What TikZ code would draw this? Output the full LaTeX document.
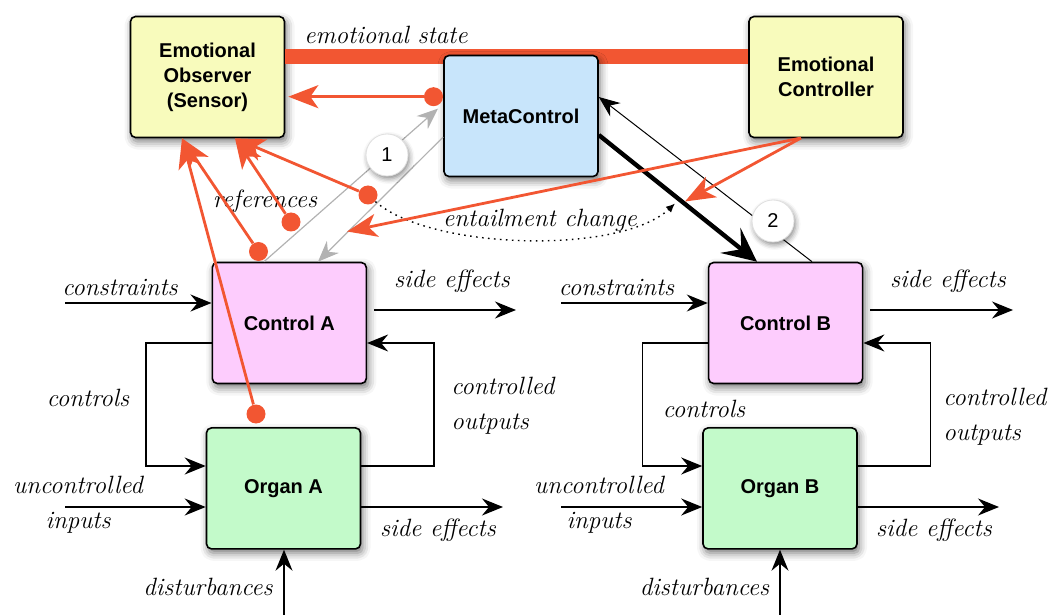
\documentclass[tikz,border=0pt]{standalone}
\usepackage{fontspec}
\setsansfont{Liberation Sans}
\usetikzlibrary{arrows.meta,positioning,calc,shadows.blur}

\definecolor{emoorange}{RGB}{242,86,50}
\definecolor{emoyellow}{RGB}{248,251,188}
\definecolor{metablue}{RGB}{200,229,251}
\definecolor{ctrlpink}{RGB}{253,204,253}
\definecolor{organgreen}{RGB}{195,250,202}

\newcommand{\lblfont}{\fontsize{12.5}{17.5}\selectfont\itshape}

\begin{document}
\begin{tikzpicture}[
    x=0.5pt, y=-0.5pt,
    box/.style={rectangle, draw, rounded corners=2.5pt, line width=0.8pt, minimum width=77pt, minimum height=60.5pt, align=center, font=\fontsize{10}{12.5}\selectfont\sffamily\bfseries, blur shadow={shadow xshift=1pt, shadow yshift=-2pt, shadow blur radius=4pt, shadow opacity=55}},
    arrow/.style={-{Stealth[length=10.5pt, width=8.5pt, inset=3.5pt]}, line width=0.75pt},
    ghost/.style={arrow, draw=black!30, line width=0.6pt},
    emo/.style={draw=emoorange, line width=1.4pt, -{Stealth[length=15pt, width=11.5pt, inset=4pt]}},
    dot/.style={circle, fill=emoorange, inner sep=0pt, minimum size=9.5pt},
    numcirc/.style={circle, fill=white, draw=black!12, minimum size=21pt, inner sep=0pt, font=\fontsize{10}{12}\selectfont\sffamily, blur shadow={shadow xshift=0.8pt, shadow yshift=-1.5pt, shadow blur radius=2.5pt, shadow opacity=45}},
    lbl/.style={font=\lblfont, inner sep=0pt}
]
    \useasboundingbox (0,0) rectangle (1051,615);

    % top row
    \node[box, fill=emoyellow] (observer) at (207.5,77) {Emotional\\Observer\\(Sensor)};
    \node[box, fill=emoyellow] (emoctrl) at (826,77) {Emotional\\Controller};
    \draw[emoorange, line width=7.5pt] (observer.east |- 0,57) -- (emoctrl.west |- 0,57);
    \node[lbl] (state) at (386,35) {emotional state};
    \node[box, fill=metablue] (meta) at (521,116) {MetaControl};

    % control loops
    \node[box, fill=ctrlpink] (ctrlA) at (289.3,323) {Control A};
    \node[box, fill=organgreen, below=21.4pt of ctrlA, xshift=-2.9pt] (organA) {Organ A};
    \node[box, fill=ctrlpink] (ctrlB) at (785.6,323) {Control B};
    \node[box, fill=organgreen, below=21.4pt of ctrlB, xshift=-2.8pt] (organB) {Organ B};

    \coordinate (consA) at (65,303);
    \coordinate (consB) at (561,303);
    \coordinate (sideA) at (516,310);
    \coordinate (sideB) at (1013,310);
    \coordinate (uncA) at (65,507);
    \coordinate (uncB) at (561,507);
    \coordinate (sideOA) at (503,507);
    \coordinate (sideOB) at (999,507);
    \coordinate (distA) at (284,615);
    \coordinate (distB) at (780,615);

    \draw[arrow] (consA) -- (ctrlA.west |- consA);
    \draw[arrow, shorten <=3.5pt] (ctrlA.east |- sideA) -- (sideA);
    \draw[arrow] (ctrlA.west |- 0,343) -| (146,466) -- (organA.west |- 0,466);
    \draw[arrow] (organA.east |- 0,466) -| (434,343) -- (ctrlA.east |- 0,343);
    \draw[arrow] (uncA) -- (organA.west |- uncA);
    \draw[arrow] (organA.east |- sideOA) -- (sideOA);
    \draw[arrow] (distA) -- (distA |- organA.south);

    \draw[arrow] (consB) -- (ctrlB.west |- consB);
    \draw[arrow, shorten <=3.5pt] (ctrlB.east |- sideB) -- (sideB);
    \draw[arrow] (ctrlB.west |- 0,343) -| (642.6,466) -- (organB.west |- 0,466);
    \draw[arrow] (organB.east |- 0,466) -| (930.4,343) -- (ctrlB.east |- 0,343);
    \draw[arrow] (uncB) -- (organB.west |- uncB);
    \draw[arrow] (organB.east |- sideOB) -- (sideOB);
    \draw[arrow] (distB) -- (distB |- organB.south);

    \node[lbl] (consAlbl) at (120,287) {constraints};
    \node[lbl] (sideAlbl) at (452,281) {side effects};
    \node[lbl] (ctlsAlbl) at (88,398) {controls};
    \node[lbl, align=left, anchor=west] (coutAlbl) at (451,405.5) {controlled\\outputs};
    \node[lbl, align=center] (uncAlbl) at (78,505) {uncontrolled\\inputs};
    \node[lbl] (sideOAlbl) at (438,530) {side effects};
    \node[lbl] (distAlbl) at (208,587) {disturbances};

    \node[lbl] (consBlbl) at (616.5,287) {constraints};
    \node[lbl] (sideBlbl) at (948,281) {side effects};
    \node[lbl] (ctlsBlbl) at (704,409) {controls};
    \node[lbl, align=left, anchor=west] (coutBlbl) at (943,416.5) {controlled\\outputs};
    \node[lbl, align=center] (uncBlbl) at (599,505) {uncontrolled\\inputs};
    \node[lbl] (sideOBlbl) at (934,530) {side effects};
    \node[lbl] (distBlbl) at (704.5,587) {disturbances};

    % meta level
    \draw[ghost, shorten >=3.5pt] (ctrlA.north -| 264,0) -- (meta.west |- 0,104);
    \draw[ghost] (meta.west |- 0,137) -- (ctrlA.north -| 318,0);
    \node[numcirc] (one) at (387,155) {1};

    \draw[-{Stealth[length=17pt, width=16pt, inset=7pt]}, line width=2.2pt] (meta.east |- 0,135) -- (ctrlB.north -| 757,0);
    \draw[arrow, line width=0.5pt] (ctrlB.north -| 812,0) -- (meta.east |- 0,97);
    \node[numcirc] (two) at (773,221) {2};

    \node[lbl] (refs) at (265,201) {references};
    \node[lbl] (ent) at (540,220) {entailment change};

    % emotional feedback
    \node[dot] (dotMeta) at (433.5,96.7) {};
    \node[dot] (dotCtrlA) at (258.5,251.5) {};
    \node[dot] (dotOrgan) at (256,414) {};
    \node[dot] (dotRef) at (291,222) {};
    \node[dot] (dotEnt) at (368,195) {};
    \coordinate (entA) at (347,231.5);
    \coordinate (entB) at (685,201.5);
    \coordinate (entTip) at (675,203.5);
    \coordinate (ecOut) at (801,138);

    \draw[line width=0.7pt, dash pattern=on 0.8pt off 2.2pt, -{Latex[length=4.5pt, width=4pt]}] (dotEnt) .. controls (430,250) and (620,255) .. (entTip);

    \draw[emo, shorten >=1.5pt] (dotMeta) -- (observer.east |- dotMeta);
    \draw[emo] (dotOrgan) -- (observer.south -| 182,0);
    \draw[emo] (dotCtrlA) -- (observer.south -| 182,0);
    \draw[emo] (dotRef) -- (observer.south -| 235,0);
    \draw[emo] (dotEnt) -- (observer.south -| 235,0);
    \draw[emo] (ecOut) -- (entA);
    \draw[emo] (ecOut) -- (entB);
\end{tikzpicture}
\end{document}
